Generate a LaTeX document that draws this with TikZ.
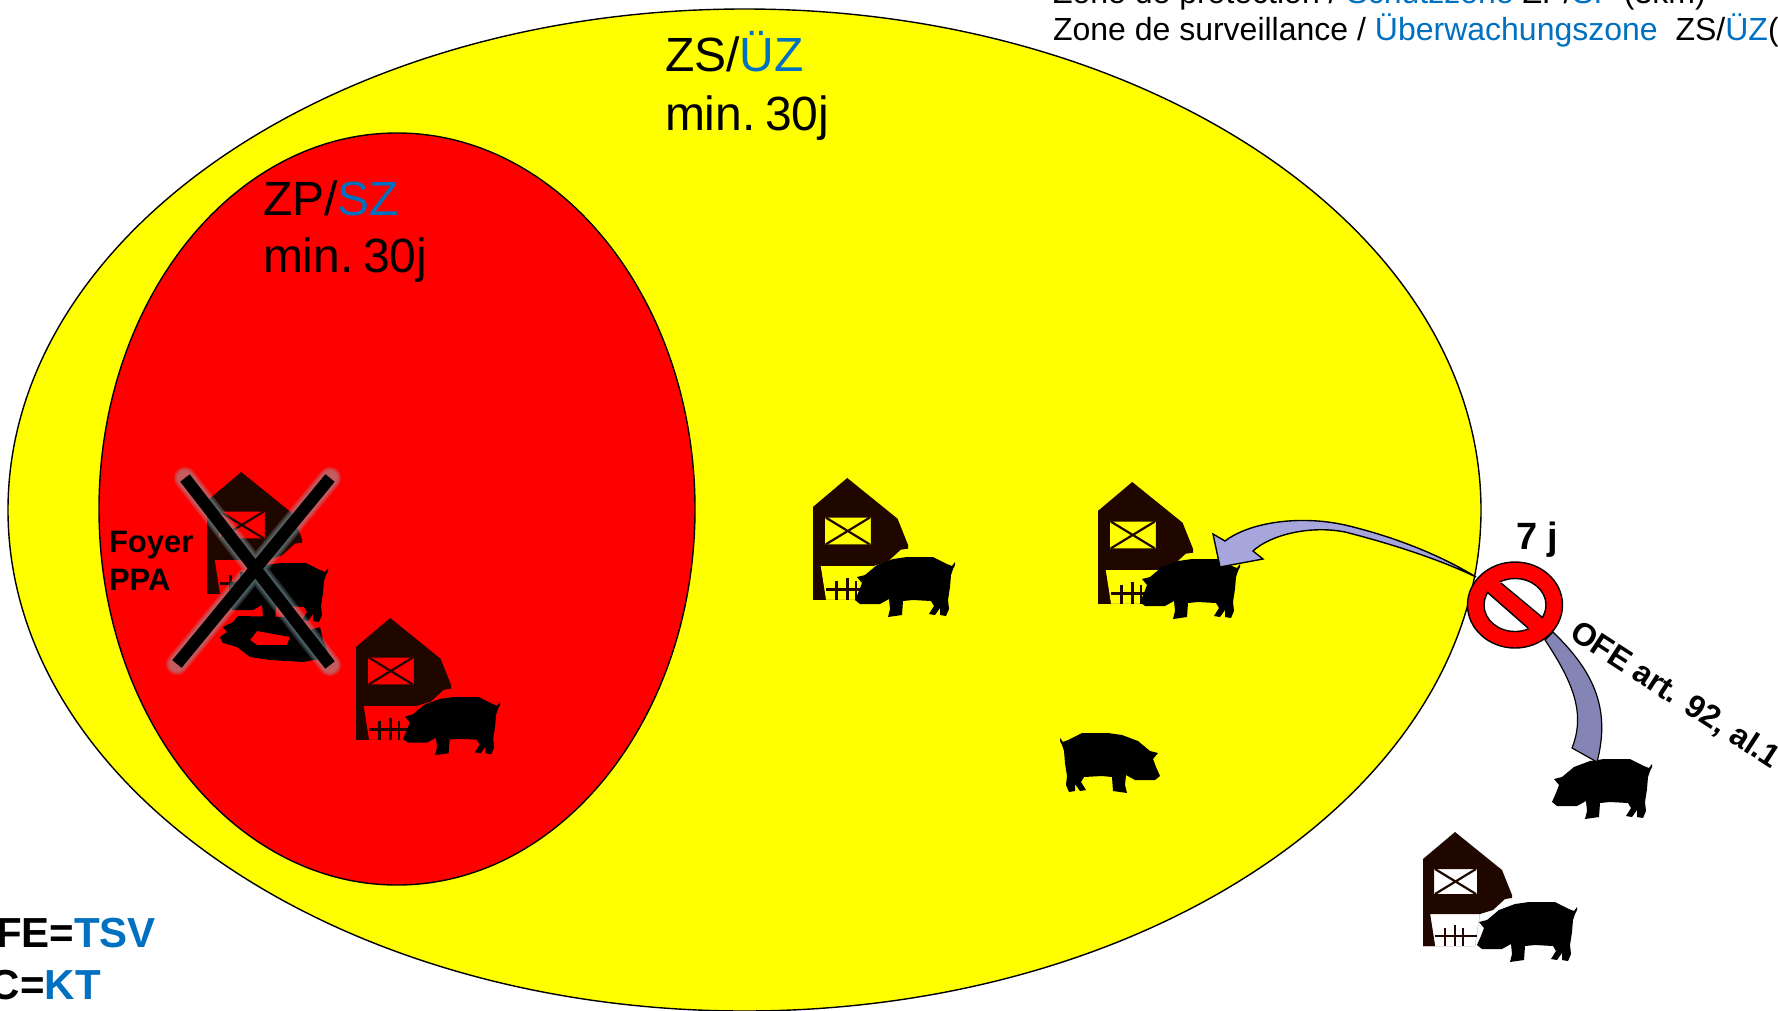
\documentclass[tikz,border=0pt]{standalone}
\usepackage{fontspec}
\setmainfont{Liberation Sans}
\definecolor{blu}{HTML}{0070C0}
\definecolor{barnc}{HTML}{1F0700}
\definecolor{arrA}{HTML}{A6A6DC}
\definecolor{arrB}{HTML}{8585B5}
\definecolor{glowc}{HTML}{8FB0B8}
\definecolor{zoneY}{HTML}{FFFF00}
\definecolor{zoneR}{HTML}{FF0000}
\newcommand{\fs}[1]{\fontsize{#1}{#1}\selectfont}
\tikzset{
  x=1pt,y=-1pt,
  lbl/.style={inner sep=0pt,outer sep=0pt,anchor=base west,align=left},
  zone/.style={draw=black,line width=1.4pt},
  xglow/.style={glowc,line cap=round,opacity=.22},
  pigshape/.pic={
    \fill[black,line join=round] (100,5) -- (100,8) -- (98,12) -- (96,18) -- (95,30) -- (93,43) -- (94,52) -- (91,59) -- (85,58) -- (85,51) -- (80,58) -- (74,57) -- (79,49) -- (76,44) -- (58,43) -- (48,44) -- (47,58) -- (33,60) -- (35,52) -- (34,42) -- (25,47) -- (5,47) -- (0,43) -- (4,34) -- (7,26) -- (2,20) -- (10,18) -- (22,8) -- (38,2) -- (52,0) -- (78,0) -- (92,7) -- (97,9) -- cycle;
  },
  barnshape/.pic={
    \fill[barnc,even odd rule] (0,114) -- (0,27) -- (32,0) -- (79,38) -- (89,63) -- (89,66) -- (82,67) -- (70,78) -- (57,82) -- (52,114) -- cycle
      (7,82) -- (57,82) -- (52,114) -- (12,114) -- cycle
      (11,37) -- (54,37) -- (54,62) -- (11,62) -- cycle;
    \fill[barnc] (0,82) -- (7,82) -- (12,114) -- (0,114) -- cycle;
    \draw[barnc,line width=2.2pt] (12,37) -- (53,62) (53,37) -- (12,62);
    \draw[barnc,line width=2.6pt] (12,104) -- (54,104) (22,96) -- (22,114) (32,93) -- (32,114) (40,96) -- (40,114);
  }
}
\begin{document}
\begin{tikzpicture}
\useasboundingbox (0,0) rectangle (1778,1010);
\clip (0,0) rectangle (1778,1010);
% zones
\draw[zone,fill=zoneY] (744.5,510) ellipse [x radius=736.5,y radius=501];
\draw[zone,fill=zoneR] (397,509) ellipse [x radius=298,y radius=376];
% foyer farm
\path (207,472) pic[scale=1.07] {barnshape};
\path (228,563) pic {pigshape};
\fill[black,even odd rule] (220,637) -- (227,632) -- (223,627) -- (233,622) -- (238,616) -- (290,617) -- (310,630) -- (320,627) -- (323,640) -- (330,657) -- (303,662) -- (270,660) -- (250,657) -- (237,647) -- (223,643) -- cycle
  (257,631) -- (290,637) -- (287,645) -- (257,645) -- (250,640) -- cycle;
% cross
\foreach \w in {22,19,16}{
  \draw[xglow,line width=\w pt] (185,478) -- (330,665) (330,478) -- (177,664);
}
\draw[black,line width=12pt] (185,478) -- (330,665) (330,478) -- (177,664);
% farms
\path (356,618) pic[scale=1.07] {barnshape};
\path (403,697) pic[scale=.97] {pigshape};
\path (813,478) pic[scale=1.07] {barnshape};
\path (855,557) pic {pigshape};
\path (1098,482) pic[scale=1.07] {barnshape};
\path (1140,559) pic {pigshape};
\path (1160,733) pic[xscale=-1] {pigshape};
\path (1552,759) pic {pigshape};
\path (1423,832) pic {barnshape};
\path (1477,902) pic {pigshape};
% block arrow to the farm
\draw[black,line width=1.4pt,fill=arrA,line join=miter]
  (1220,567) -- (1213,534) -- (1225,541)
  .. controls (1250,522) and (1300,515) .. (1345,525)
  .. controls (1400,538) and (1445,558) .. (1476,577)
  .. controls (1445,562) and (1400,546) .. (1345,532)
  .. controls (1310,525) and (1270,535) .. (1253,551)
  -- (1263,559) -- cycle;
% block band to the outside pig
\draw[black,line width=1.2pt,fill=arrB]
  (1553,632) .. controls (1590,668) and (1612,705) .. (1597,762)
  -- (1572,748) .. controls (1585,715) and (1575,685) .. (1545,640) -- cycle;
% prohibition sign
\draw[black,line width=1.4pt,fill=zoneR] (1515,605) ellipse [x radius=47.5,y radius=43];
\begin{scope}
  \clip (1470,550) -- (1460,550) -- (1501,583) -- (1543,618) -- (1570,640) -- (1570,550) -- cycle;
  \draw[black,line width=1.4pt,fill=white] (1515,605) ellipse [x radius=31,y radius=26.5];
\end{scope}
\begin{scope}
  \clip (1487,592) -- (1528,628) -- (1570,665) -- (1450,665) -- (1450,560) -- cycle;
  \draw[black,line width=1.4pt,fill=white] (1515,605) ellipse [x radius=31,y radius=26.5];
\end{scope}
\draw[black,line width=1.4pt] (1501,583) -- (1543,618) (1487,592) -- (1528,628);
% texts
\node[lbl] (t1) at (1053,3) {\fs{32}Zone de protection / \textcolor{blu}{Schutzzone} ZP/\textcolor{blu}{SP} (3km)};
\node[lbl] (t2) at (1053,40) {\fs{32}Zone de surveillance / \textcolor{blu}{Überwachungszone}\ \ ZS/\textcolor{blu}{ÜZ}(};
\node[lbl] (zs) at (665,71) {\fs{48}ZS/\textcolor{blu}{ÜZ}};
\node[lbl] (zsm) at (665,130) {\fs{48}min.\hspace{.2em}30j};
\node[lbl] (zp) at (263,215) {\fs{48}ZP/\textcolor{blu}{SZ}};
\node[lbl] (zpm) at (263,272) {\fs{48}min.\hspace{.2em}30j};
\node[lbl] (fo) at (109,552) {\fs{31}\bfseries Foyer};
\node[lbl] (pp) at (109,590) {\fs{31}\bfseries PPA};
\node[lbl] (sj) at (1516,549) {\fs{38}\bfseries 7 j};
\node[lbl,rotate=-33] (ofe) at (1568,637) {\fs{32}\bfseries OFE art. 92, al.1};
\node[lbl] (fe) at (-4,947) {\fs{42}\bfseries FE=\textcolor{blu}{TSV}};
\node[lbl] (ck) at (-10,999) {\fs{42}\bfseries C=\textcolor{blu}{KT}};
\end{tikzpicture}
\end{document}
